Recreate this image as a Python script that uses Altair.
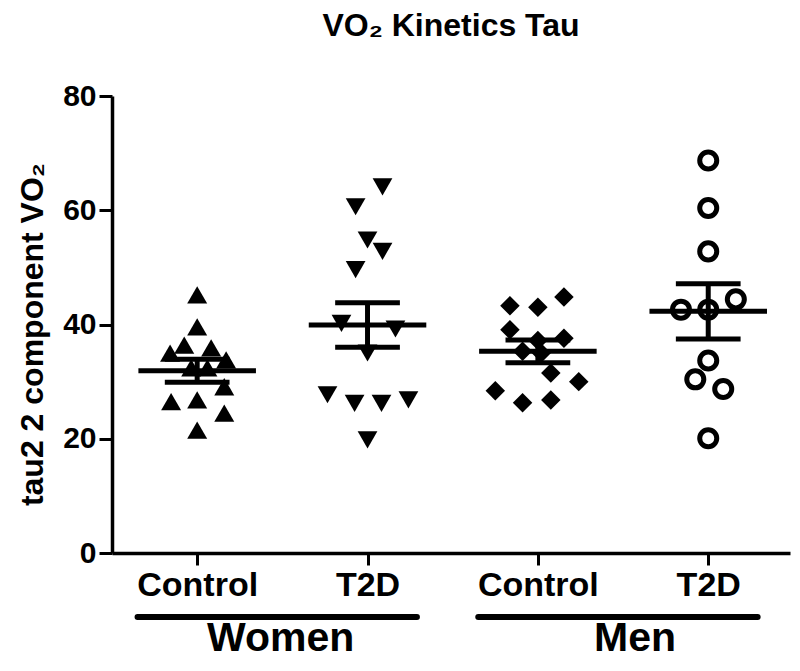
import altair as alt
import pandas as pd

# ---- data ----
groups = ["Women Control", "Women T2D", "Men Control", "Men T2D"]
tick_labels = ["Control", "T2D", "Control", "T2D"]
sexes = ["Women", "Men"]
sex_first = [1, 3]
sex_last = [2, 4]

women_control = [45.2, 39.6, 36.4, 35.9, 35.0, 33.8, 32.4, 32.4, 29.1, 26.5, 26.8, 24.5, 21.5]
women_control_spread = [0, 0, -0.076, 0.082, -0.159, 0.17, -0.035, 0.06, 0.159, -0.153, 0, 0.159, 0]

women_t2d = [64.1, 60.6, 54.8, 52.8, 49.6, 40.2, 39.2, 35.0, 27.7, 26.2, 26.2, 26.8, 19.8]
women_t2d_spread = [0.088, -0.07, 0, 0.088, -0.07, -0.153, 0.164, 0, -0.235, -0.076, 0.082, 0.24, 0]

men_control = [44.8, 43.3, 43.0, 39.1, 37.6, 37.2, 35.3, 35.0, 31.5, 30.0, 28.4, 26.3, 26.8]
men_control_spread = [0.153, -0.164, 0, -0.164, 0.153, 0, -0.09, 0.02, 0.076, 0.24, -0.25, -0.09, 0.076]

men_t2d = [68.7, 60.4, 52.8, 44.4, 42.6, 42.6, 33.7, 30.4, 28.7, 20.1]
men_t2d_spread = [0, 0, 0, 0.162, -0.16, 0, 0, -0.076, 0.088, 0]

means = [31.9, 39.9, 35.3, 42.3]
sems = [2.0, 3.9, 2.0, 4.85]

# ---- tables ----
rows = []
for gi, (vals, spr) in enumerate([(women_control, women_control_spread),
                                   (women_t2d, women_t2d_spread),
                                   (men_control, men_control_spread),
                                   (men_t2d, men_t2d_spread)]):
    for v, s in zip(vals, spr):
        rows.append({"group": groups[gi], "idx": gi + 1, "spread": s, "value": v})
points = pd.DataFrame(rows)

stats = pd.DataFrame({"group": groups, "idx": [1, 2, 3, 4], "mean": means, "sem": sems})
sex_df = pd.DataFrame({"sex": sexes, "first": sex_first, "last": sex_last})

FONT = "Liberation Sans"
label_expr = "[" + ",".join("'" + t + "'" for t in tick_labels) + "][datum.value - 1]"

x_axis = alt.Axis(values=[1, 2, 3, 4], labelExpr=label_expr, grid=False, title=None,
                  domainColor="black", domainWidth=3.5, tickColor="black", tickWidth=3,
                  tickSize=12, labelFont=FONT, labelFontSize=34, labelFontWeight="bold",
                  labelColor="black", labelPadding=3)
y_axis = alt.Axis(values=[0, 20, 40, 60, 80], grid=False, title="tau2 2 component VO₂",
                  titleFont=FONT, titleFontSize=32, titleFontWeight="bold", titleColor="black",
                  titleAngle=-90, titleX=-80, titleY=238, titleAlign="center",
                  titleBaseline="middle",
                  domainColor="black", domainWidth=3.5, tickColor="black", tickWidth=3,
                  tickSize=13, labelFont=FONT, labelFontSize=30, labelFontWeight="bold",
                  labelColor="black", labelPadding=3)
x_scale = alt.Scale(domain=[0.5, 4.48], nice=False, zero=False)
y_scale = alt.Scale(domain=[0, 80], nice=False)

X = lambda f: alt.X(f, type="quantitative", scale=x_scale, axis=x_axis)
Y = lambda f: alt.Y(f, type="quantitative", scale=y_scale, axis=y_axis)

base = alt.Chart(points).transform_calculate(xpos="datum.idx + datum.spread")

filled = base.transform_filter(alt.datum.group != groups[3]).mark_point(
    filled=True, opacity=1, color="black").encode(
    x=X("xpos"), y=Y("value"),
    shape=alt.Shape("group:N", scale=alt.Scale(domain=groups[:3],
                    range=["triangle-up", "triangle-down", "diamond"]), legend=None),
    size=alt.Size("group:N", scale=alt.Scale(domain=groups[:3], range=[400, 380, 520]),
                  legend=None),
)
hollow = base.transform_filter(alt.datum.group == groups[3]).mark_point(
    filled=False, shape="circle", size=290, strokeWidth=5, color="black", opacity=1).encode(
    x=X("xpos"), y=Y("value"))

sbase = alt.Chart(stats).transform_calculate(
    m0="datum.idx - 0.345", m1="datum.idx + 0.345",
    c0="datum.idx - 0.19", c1="datum.idx + 0.19",
    lo="datum.mean - datum.sem", hi="datum.mean + datum.sem")

mean_line = sbase.mark_rule(strokeWidth=5, color="black").encode(
    x=X("m0"), x2="m1", y=Y("mean"))
cap_hi = sbase.mark_rule(strokeWidth=5, color="black").encode(
    x=X("c0"), x2="c1", y=Y("hi"))
cap_lo = sbase.mark_rule(strokeWidth=5, color="black").encode(
    x=X("c0"), x2="c1", y=Y("lo"))
stem = sbase.mark_rule(strokeWidth=5, color="black").encode(
    x=X("idx"), y=Y("lo"), y2="hi")

gbase = alt.Chart(sex_df).transform_calculate(
    b0="datum.first - 0.35", b1="datum.last + 0.29",
    mid="(datum.first + datum.last) / 2 + (datum.first > 1 ? 0.07 : -0.01)")
bracket = gbase.mark_rule(strokeWidth=6, strokeCap="round", color="black").encode(
    x=X("b0"), x2="b1", y=alt.value(521))
sex_text = gbase.mark_text(font=FONT, fontSize=41, fontWeight="bold", color="black",
                           baseline="alphabetic", align="center").encode(
    x=X("mid"), y=alt.value(555), text="sex:N")

chart = alt.layer(filled, hollow, mean_line, cap_hi, cap_lo, stem, bracket, sex_text).properties(
    width=678, height=457,
    title=alt.TitleParams("VO₂ Kinetics Tau", font=FONT, fontSize=32, fontWeight="bold",
                          color="black", anchor="middle", offset=13, baseline="alphabetic"),
    autosize=alt.AutoSizeParams(type="none"),
    padding={"left": 104, "top": 88, "right": 2, "bottom": 107},
    background="white",
).configure_view(stroke=None)

chart.save("out.html", embed_options={"renderer": "svg", "actions": False})
